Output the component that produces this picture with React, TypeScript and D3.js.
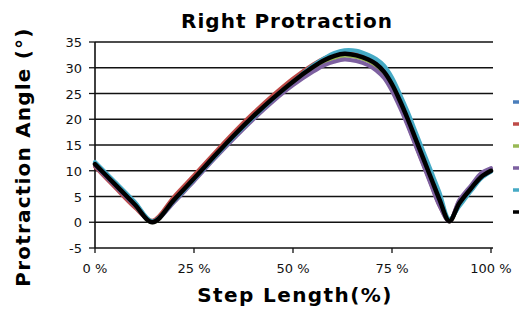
import React from 'react';
import * as d3 from 'd3';

// step length (%) sample positions shared by every series
const stepPct = [0, 5, 10, 14.5, 20, 25, 30, 35, 40, 45, 50, 55, 58, 60.5, 63, 66, 69, 71, 73, 75, 77, 79, 81, 83, 85, 87, 89.5, 92, 95, 97.5, 100];

const blueVals = [11.5, 7.7, 3.8, 0.1, 4.3, 8.4, 12.6, 16.7, 20.5, 24.1, 27.4, 30.3, 31.7, 32.6, 33.0, 32.9, 32.1, 31.2, 29.8, 27.4, 24.2, 20.7, 16.8, 12.9, 9.0, 5.1, 0.4, 3.4, 6.3, 8.6, 9.9];
const redVals = [10.8, 6.8, 2.9, 0.3, 5.0, 9.1, 13.3, 17.4, 21.2, 24.7, 27.9, 30.6, 31.9, 32.6, 32.9, 32.5, 31.4, 30.3, 28.6, 26.0, 22.7, 19.0, 15.0, 11.1, 7.2, 3.3, 0.2, 4.1, 6.9, 9.0, 10.0];
const greenVals = [11.2, 7.3, 3.4, 0.0, 4.3, 8.4, 12.6, 16.6, 20.4, 23.9, 27.1, 29.8, 31.2, 31.9, 32.3, 32.1, 31.3, 30.4, 28.9, 26.5, 23.3, 19.7, 15.8, 11.9, 8.0, 4.1, 0.2, 3.7, 6.6, 8.8, 10.0];
const purpleVals = [11.0, 7.1, 3.3, 0.1, 3.9, 8.0, 12.2, 16.2, 20.0, 23.5, 26.6, 29.2, 30.5, 31.2, 31.6, 31.3, 30.5, 29.5, 28.0, 25.5, 22.3, 18.7, 14.8, 10.9, 7.0, 3.2, 0.2, 4.3, 7.2, 9.5, 10.5];
const cyanVals = [11.7, 7.9, 4.0, 0.2, 4.2, 8.3, 12.5, 16.6, 20.4, 24.0, 27.3, 30.4, 31.9, 32.9, 33.4, 33.3, 32.5, 31.7, 30.4, 28.1, 24.9, 21.4, 17.5, 13.6, 9.7, 5.8, 0.6, 3.1, 6.1, 8.5, 9.8];
const blackVals = [11.3, 7.4, 3.5, 0.0, 4.4, 8.5, 12.7, 16.8, 20.6, 24.1, 27.3, 30.1, 31.5, 32.3, 32.7, 32.4, 31.6, 30.7, 29.2, 26.8, 23.6, 20.0, 16.1, 12.2, 8.3, 4.4, 0.2, 3.7, 6.6, 8.8, 10.0];

const seriesColors = ['#4a7ebb', '#be4b48', '#98b954', '#7d60a0', '#46aac5', '#000000'];
const seriesVals = [blueVals, redVals, greenVals, purpleVals, cyanVals, blackVals];

const yTicks = [-5, 0, 5, 10, 15, 20, 25, 30, 35];
const xTicks = [0, 25, 50, 75, 100];

const W = 519;
const H = 310;

const App: React.FC = () => {
  const x = d3.scaleLinear().domain([0, 100]).range([95, 491]);
  const y = d3.scaleLinear().domain([-5, 35]).range([248, 42]);

  const line = d3.line<[number, number]>()
    .x(d => x(d[0]))
    .y(d => y(d[1]))
    .curve(d3.curveCatmullRom.alpha(0.5));

  const font = 'DejaVu Sans, Verdana, sans-serif';

  return (
    <svg width={W} height={H} style={{ position: 'fixed', left: 0, top: 0, background: '#fff' }}>
      {/* gridlines */}
      {yTicks.map(t => (
        <line key={'g' + t} x1={x(0)} x2={x(100) + 2} y1={y(t)} y2={y(t)}
          stroke="#111" strokeWidth={t === -5 ? 1.6 : 1.3} />
      ))}
      {/* y axis */}
      <line x1={x(0)} x2={x(0)} y1={y(35)} y2={y(-5)} stroke="#111" strokeWidth={1.6} />
      {yTicks.map(t => (
        <g key={'yt' + t}>
          <line x1={x(0) - 6} x2={x(0)} y1={y(t)} y2={y(t)} stroke="#111" strokeWidth={1.3} />
          <text x={82} y={y(t) + 5} textAnchor="end" fontFamily={font} fontSize={13} fill="#111">{t}</text>
        </g>
      ))}
      {xTicks.map(t => (
        <g key={'xt' + t}>
          <line x1={x(t)} x2={x(t)} y1={y(-5)} y2={y(-5) + 5} stroke="#111" strokeWidth={1.3} />
          <text x={x(t)} y={273} textAnchor="middle" fontFamily={font} fontSize={13} fill="#111">{t} %</text>
        </g>
      ))}

      {/* series */}
      {seriesVals.map((vals, i) => (
        <path key={'s' + i}
          d={line(stepPct.map((p, j) => [p, vals[j]] as [number, number])) || ''}
          fill="none" stroke={seriesColors[i]} strokeWidth={i === 5 ? 4.5 : 4}
          strokeLinejoin="round" strokeLinecap="round" />
      ))}

      {/* legend (clipped at right edge) */}
      {seriesColors.map((c, i) => (
        <line key={'l' + i} x1={513} x2={535} y1={102 + i * 22} y2={102 + i * 22}
          stroke={c} strokeWidth={3.5} />
      ))}

      {/* titles */}
      <text x={287} y={28} textAnchor="middle" fontFamily={font} fontWeight="bold" fontSize={20}
        letterSpacing={1} fill="#000">Right Protraction</text>
      <text x={295} y={302} textAnchor="middle" fontFamily={font} fontWeight="bold" fontSize={20}
        letterSpacing={1.4} fill="#000">Step Length(%)</text>
      <text transform={`translate(30,157) rotate(-90)`} textAnchor="middle" fontFamily={font}
        fontWeight="bold" fontSize={20} letterSpacing={1.2} fill="#000">Protraction Angle (°)</text>
    </svg>
  );
};

export default App;
